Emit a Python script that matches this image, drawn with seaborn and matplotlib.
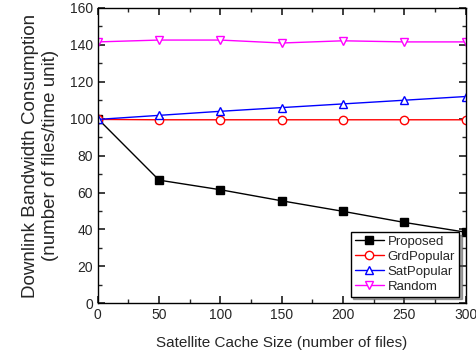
import matplotlib
matplotlib.use("Agg")
import matplotlib.pyplot as plt
import pandas as pd
import seaborn as sns
from matplotlib.ticker import MultipleLocator

cache_size = [0, 50, 100, 150, 200, 250, 300]
proposed = [100, 66.7, 61.5, 55.5, 49.8, 43.8, 38.5]
grd_popular = [99.6, 99.4, 99.4, 99.4, 99.4, 99.4, 99.4]
sat_popular = [99.6, 101.8, 104.0, 106.0, 108.0, 110.0, 112.0]
random_ = [141.6, 142.6, 142.6, 141.0, 142.2, 141.6, 141.6]

series = ["Proposed", "GrdPopular", "SatPopular", "Random"]
values = [proposed, grd_popular, sat_popular, random_]

df = pd.concat(
    [pd.DataFrame({"size": cache_size, "bw": v, "method": s}) for s, v in zip(series, values)]
)

sns.set_theme(style="ticks")
plt.rcParams["font.family"] = ["Liberation Sans", "DejaVu Sans"]

fig, ax = plt.subplots(figsize=(4.77, 3.61), dpi=100)

colors = {"Proposed": "black", "GrdPopular": "red", "SatPopular": "blue", "Random": "#ff00ff"}
markers = {"Proposed": "s", "GrdPopular": "o", "SatPopular": "^", "Random": "v"}

for s in series:
    sub = df[df["method"] == s]
    filled = s == "Proposed"
    sns.lineplot(
        data=sub, x="size", y="bw", ax=ax, color=colors[s], marker=markers[s],
        markersize=6, linewidth=1.0, label=s,
        markerfacecolor=colors[s] if filled else "white",
        markeredgecolor=colors[s], markeredgewidth=1.0,
    )

ax.set_xlim(0, 300)
ax.set_ylim(0, 160)
ax.xaxis.set_major_locator(MultipleLocator(50))
ax.xaxis.set_minor_locator(MultipleLocator(25))
ax.yaxis.set_major_locator(MultipleLocator(20))
ax.yaxis.set_minor_locator(MultipleLocator(10))
ax.tick_params(which="both", direction="in", top=True, right=True, labelsize=10)
ax.tick_params(which="major", length=5)
ax.tick_params(which="minor", length=3)
for sp in ax.spines.values():
    sp.set_linewidth(1.0)
    sp.set_color("black")

ax.set_xlabel("Satellite Cache Size (number of files)", fontsize=11, labelpad=10)
ax.set_ylabel("Downlink Bandwidth Consumption\n(number of files/time unit)", fontsize=13.5,
              labelpad=8)

leg = ax.legend(loc="lower right", fontsize=9.5, frameon=True, fancybox=False,
                shadow=True, borderpad=0.3, labelspacing=0.2, handlelength=2.2,
                handletextpad=0.3, borderaxespad=0.5)
leg.get_frame().set_edgecolor("black")
leg.get_frame().set_linewidth(1.0)

fig.subplots_adjust(left=0.205, right=0.976, top=0.978, bottom=0.16)
fig.savefig("out.png", dpi=100)
